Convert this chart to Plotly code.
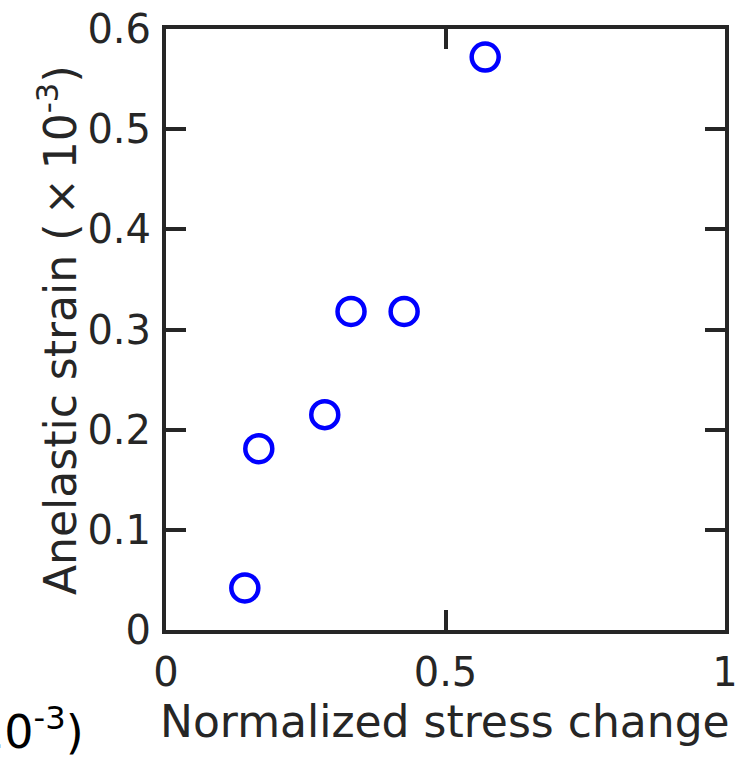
import plotly.graph_objects as go

# Data
stress_change = [0.141, 0.166, 0.284, 0.331, 0.426, 0.571]
anelastic_strain = [0.042, 0.181, 0.215, 0.318, 0.318, 0.572]

x_ticks = [0, 0.5, 1]
x_tick_labels = ["0", "0.5", "1"]
y_ticks = [0, 0.1, 0.2, 0.3, 0.4, 0.5, 0.6]
y_tick_labels = ["0", "0.1", "0.2", "0.3", "0.4", "0.5", "0.6"]

x_title = "Normalized stress change"
y_title = "Anelastic strain (\u2009×\u200910<sup>-3</sup>)"
clipped_text = "10<sup>-3</sup>)"

W, H = 747, 763
L, R, T, B = 166, 22, 29, 133
pw, ph = W - L - R, H - T - B

def px_to_paper_x(px):
    return (px - L) / pw

def px_to_paper_y(py):
    return (H - B - py) / ph

axis_color = "#262626"
font_family = "DejaVu Sans"

fig = go.Figure()
fig.add_trace(go.Scatter(
    x=stress_change, y=anelastic_strain, mode="markers",
    marker=dict(symbol="circle-open", size=27, color="#0000ff",
                line=dict(width=4.5, color="#0000ff")),
    showlegend=False,
))

common = dict(showline=True, linecolor=axis_color, linewidth=4,
              mirror="ticks", ticks="inside", ticklen=20, tickwidth=4,
              tickcolor=axis_color, showgrid=False, zeroline=False,
              automargin=False,
              tickfont=dict(family=font_family, size=40, color=axis_color))

fig.update_xaxes(range=[0, 1], tickvals=x_ticks, ticktext=x_tick_labels,
                 ticklabelstandoff=4, **common)
fig.update_yaxes(range=[0, 0.6], tickvals=y_ticks, ticktext=y_tick_labels,
                 ticklabelstandoff=3, **common)

fig.add_annotation(text=x_title, xref="paper", yref="paper",
                   x=px_to_paper_x(445), y=px_to_paper_y(721),
                   xanchor="center", yanchor="middle", showarrow=False,
                   font=dict(family=font_family, size=44, color=axis_color))
fig.add_annotation(text=y_title, xref="paper", yref="paper",
                   x=px_to_paper_x(57), y=px_to_paper_y(330),
                   xanchor="center", yanchor="middle", showarrow=False,
                   textangle=-90,
                   font=dict(family=font_family, size=44, color=axis_color))
fig.add_annotation(text=clipped_text, xref="paper", yref="paper",
                   x=px_to_paper_x(86), y=px_to_paper_y(729),
                   xanchor="right", yanchor="middle", showarrow=False,
                   font=dict(family=font_family, size=46, color="#000000"))

fig.update_layout(width=W, height=H, margin=dict(l=L, r=R, t=T, b=B),
                  paper_bgcolor="white", plot_bgcolor="white",
                  font=dict(family=font_family))

fig.write_html("out.html")
